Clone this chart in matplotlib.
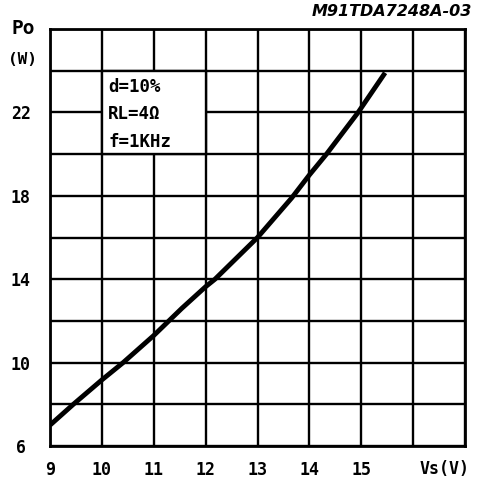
import matplotlib
matplotlib.use("Agg")
import matplotlib.pyplot as plt
from matplotlib.patches import Rectangle

# Data
vs = [9.0, 9.45, 10.0, 10.41, 11.0, 11.54, 12.0, 12.18, 13.0, 13.66, 14.0, 14.33, 14.94, 15.46]
po = [7.0, 8.0, 9.17, 10.0, 11.3, 12.6, 13.64, 14.0, 16.0, 17.9, 19.0, 20.0, 22.0, 23.9]

x_ticks = [9, 10, 11, 12, 13, 14, 15, 16, 17]
x_labels = ['9', '10', '11', '12', '13', '14', '15', '', '']
y_ticks = [6, 8, 10, 12, 14, 16, 18, 20, 22, 24, 26]
y_labels = ['6', '', '10', '', '14', '', '18', '', '22', '', '']
box_lines = ['d=10%', 'RL=4Ω', 'f=1KHz']
title = 'M91TDA7248A-03'

FONT = 'DejaVu Sans Mono'

fig = plt.figure(figsize=(4.8, 4.83), dpi=100)
ax = fig.add_axes([50/480, 1-446/483, 415/480, 417/483])
ax.set_xlim(9, 17)
ax.set_ylim(6, 26)
ax.set_axisbelow(True)

ax.set_xticks(x_ticks)
ax.set_xticklabels(x_labels, fontfamily=FONT, fontweight='bold', fontsize=12)
ax.set_yticks(y_ticks)
ax.set_yticklabels(y_labels, fontfamily=FONT, fontweight='bold', fontsize=12)
ax.tick_params(axis='both', length=0)
ax.tick_params(axis='x', pad=11)
ax.tick_params(axis='y', pad=21)
for lab in ax.get_yticklabels():
    lab.set_ha('center')

ax.grid(True, color='black', linewidth=1.7)
for s in ax.spines.values():
    s.set_linewidth(2.0)
    s.set_color('black')

# white box for annotations covering cells
ax.add_patch(Rectangle((10, 20), 2, 4, facecolor='white', edgecolor='black',
                       linewidth=1.7, zorder=1))
for i, t in enumerate(box_lines):
    ax.text(10.12, 23.2 - i * 1.3, t, fontfamily=FONT, fontweight='bold',
            fontsize=12.5, ha='left', va='center', zorder=3)

ax.plot(vs, po, color='black', linewidth=3.5, solid_capstyle='butt',
        solid_joinstyle='round', zorder=2)

ax.text(16.6, 4.92, 'Vs(V)', fontfamily=FONT, fontweight='bold', fontsize=12,
        ha='center', va='center', transform=ax.transData, clip_on=False)

fig.text(23/480, 1-28/483, 'Po', fontfamily=FONT, fontweight='bold', fontsize=14,
         ha='center', va='center')
fig.text(22/480, 1-60/483, '(W)', fontfamily=FONT, fontweight='bold', fontsize=11.5,
         ha='center', va='center')
fig.text(472/480, 1-11/483, title, fontfamily='DejaVu Sans', fontweight='bold',
         fontstyle='italic', fontsize=11.5, ha='right', va='center')

fig.savefig('out.png', dpi=100, facecolor='white')
